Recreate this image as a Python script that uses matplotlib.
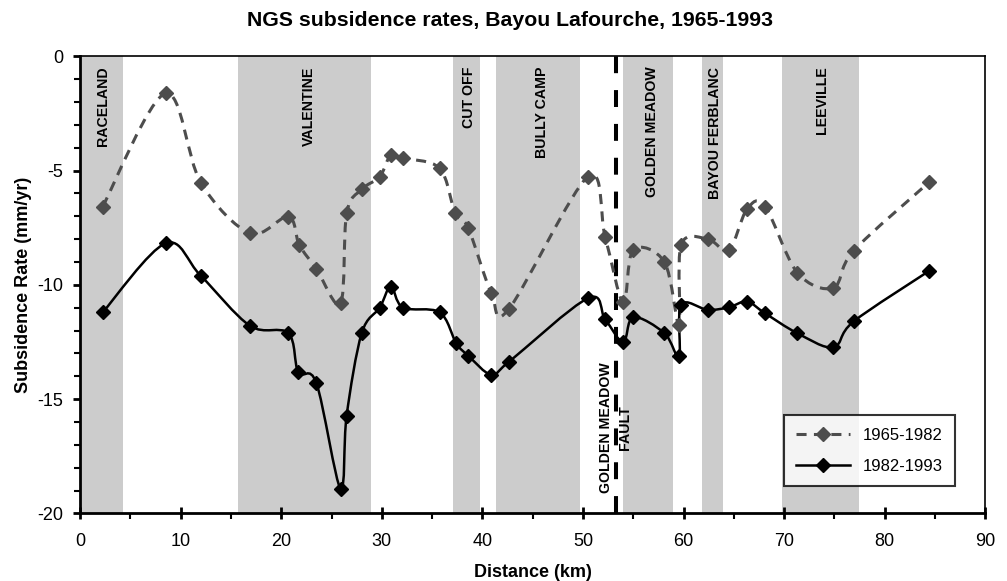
import matplotlib
matplotlib.use("Agg")
import matplotlib.pyplot as plt
from matplotlib.path import Path
from matplotlib.patches import PathPatch
from matplotlib.lines import Line2D
from matplotlib.ticker import MultipleLocator

plt.rcParams['font.family'] = ['Liberation Sans', 'DejaVu Sans']
plt.rcParams['axes.unicode_minus'] = False

# distance along bayou (km) and subsidence rates (mm/yr)
dist_old = [2.25, 8.5, 12.0, 16.9, 20.7, 21.8, 23.5, 25.9, 26.5, 28.0, 29.8, 30.9, 32.1,
            35.75, 37.3, 38.6, 40.9, 42.6, 50.5, 52.2, 54.0, 55.0, 58.1, 59.55, 59.75,
            62.4, 64.5, 66.3, 68.1, 71.3, 74.9, 76.9, 84.4]
rate_old = [-6.57, -1.62, -5.52, -7.74, -7.01, -8.25, -9.30, -10.8, -6.87, -5.82, -5.26, -4.31, -4.46,
            -4.9, -6.87, -7.52, -10.37, -11.07, -5.26, -7.89, -10.76, -8.47, -9.0, -11.75, -8.25,
            -7.99, -8.47, -6.69, -6.57, -9.46, -10.12, -8.51, -5.51]

dist_new = [2.25, 8.5, 12.0, 16.9, 20.7, 21.7, 23.5, 25.9, 26.5, 28.0, 29.8, 30.9, 32.1,
            35.75, 37.4, 38.6, 40.9, 42.6, 50.5, 52.2, 54.0, 55.0, 58.1, 59.55, 59.75,
            62.4, 64.5, 66.3, 68.1, 71.3, 74.9, 76.9, 84.4]
rate_new = [-11.2, -8.18, -9.6, -11.79, -12.11, -13.82, -14.3, -18.92, -15.72, -12.11, -10.99, -10.07, -10.99,
            -11.2, -12.55, -13.1, -13.94, -13.38, -10.58, -11.5, -12.5, -11.41, -12.11, -13.13, -10.87,
            -11.09, -10.98, -10.73, -11.24, -12.11, -12.73, -11.6, -9.39]

# salt dome / oil field zones
zone_names = ['RACELAND', 'VALENTINE', 'CUT OFF', 'BULLY CAMP', 'GOLDEN MEADOW',
              'BAYOU FERBLANC', 'LEEVILLE']
zone_start = [0.0, 15.75, 37.1, 41.4, 54.0, 61.8, 69.75]
zone_end = [4.3, 28.95, 39.8, 49.75, 58.9, 63.9, 77.4]
zone_label_x = [2.25, 22.8, 38.7, 45.9, 56.9, 63.1, 73.8]

fault_x = 53.25


def smooth_path(xs, ys):
    # Excel-style smoothed line: Catmull-Rom as cubic Bezier segments
    pts = list(zip(xs, ys))
    verts = [pts[0]]
    codes = [Path.MOVETO]
    n = len(pts)
    for i in range(n - 1):
        p0 = pts[i - 1] if i > 0 else pts[i]
        p1 = pts[i]
        p2 = pts[i + 1]
        p3 = pts[i + 2] if i + 2 < n else pts[i + 1]
        c1 = (p1[0] + (p2[0] - p0[0]) / 6, p1[1] + (p2[1] - p0[1]) / 6)
        c2 = (p2[0] - (p3[0] - p1[0]) / 6, p2[1] - (p3[1] - p1[1]) / 6)
        verts += [c1, c2, p2]
        codes += [Path.CURVE4] * 3
    return Path(verts, codes)


fig = plt.figure(figsize=(10.07, 5.81), dpi=100)
ax = fig.add_axes([0.0795, 0.1162, 0.899, 0.7868])

for s, e in zip(zone_start, zone_end):
    ax.axvspan(s, e, color='#cccccc', lw=0, zorder=0)

for name, lx in zip(zone_names, zone_label_x):
    ax.text(lx, -0.45, name, rotation=90, ha='center', va='top',
            fontsize=10.2, fontweight='bold', zorder=3)

ax.axvline(fault_x, color='black', lw=2.9, ls=(0, (4.2, 4.2)), zorder=2)
ax.text(fault_x, -16.25, 'GOLDEN MEADOW\nFAULT', rotation=90, ha='center', va='center',
        multialignment='center', fontsize=10.2, fontweight='bold', linespacing=1.45, zorder=3)

gray = '#4d4d4d'
ax.add_patch(PathPatch(smooth_path(dist_old, rate_old), fill=False, edgecolor=gray,
                       lw=2.2, ls=(0, (3.3, 2.4)), zorder=4))
ax.plot(dist_old, rate_old, ls='none', marker='D', ms=7, color=gray, zorder=5)

ax.add_patch(PathPatch(smooth_path(dist_new, rate_new), fill=False, edgecolor='black',
                       lw=1.8, zorder=4))
ax.plot(dist_new, rate_new, ls='none', marker='D', ms=7, color='black', zorder=5)

ax.set_xlim(0, 90)
ax.set_ylim(-20, 0)
ax.xaxis.set_major_locator(MultipleLocator(10))
ax.xaxis.set_minor_locator(MultipleLocator(5))
ax.yaxis.set_major_locator(MultipleLocator(5))
ax.yaxis.set_minor_locator(MultipleLocator(1))
ax.tick_params(axis='x', which='major', direction='inout', length=9, width=2, labelsize=13, pad=9.5)
ax.tick_params(axis='x', which='minor', direction='out', length=4, width=1.5)
ax.tick_params(axis='y', which='major', direction='out', length=5, width=2, labelsize=13, pad=7)
ax.tick_params(axis='y', which='minor', direction='out', length=4, width=1.5)

ax.spines['left'].set_linewidth(2)
ax.spines['bottom'].set_linewidth(2)
ax.spines['top'].set_linewidth(1.2)
ax.spines['right'].set_linewidth(1.2)

ax.set_xlabel('Distance (km)', fontsize=13, fontweight='bold', labelpad=10)
ax.set_ylabel('Subsidence Rate (mm/yr)', fontsize=13, fontweight='bold', labelpad=4)
fig.text(0.5065, 0.965, 'NGS subsidence rates, Bayou Lafourche, 1965-1993',
         ha='center', va='center', fontsize=15.3, fontweight='bold')

handles = [Line2D([], [], color=gray, lw=2.2, ls=(0, (3.3, 2.4)), marker='D', ms=7),
           Line2D([], [], color='black', lw=1.8, marker='D', ms=7)]
leg = ax.legend(handles, ['1965-1982', '1982-1993'], loc='lower right',
                bbox_to_anchor=(0.967, 0.060), fontsize=12, frameon=True, fancybox=False,
                edgecolor='black', handlelength=3.2, labelspacing=0.95, borderpad=0.75,
                handletextpad=0.8, borderaxespad=0)
leg.get_frame().set_linewidth(1.5)
leg.set_zorder(6)

fig.savefig('out.png', dpi=100, facecolor='white')
